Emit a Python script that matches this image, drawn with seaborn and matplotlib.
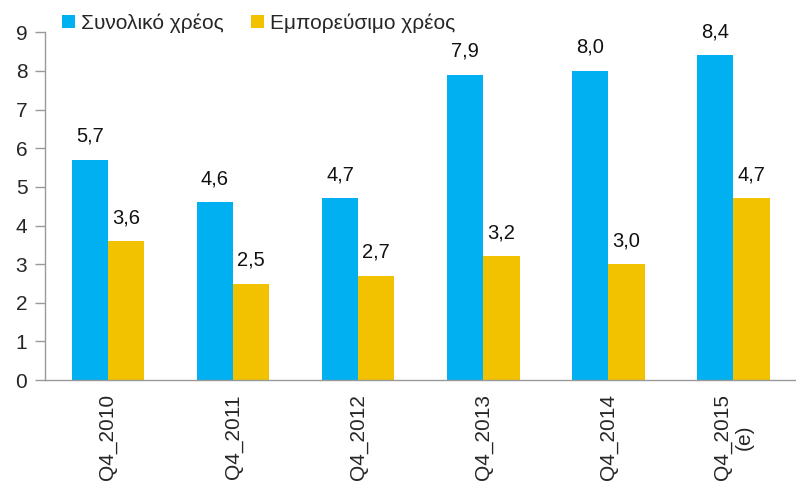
import seaborn as sns
import pandas as pd
import matplotlib.pyplot as plt
from matplotlib.patches import Patch

periods = ['Q4_2010', 'Q4_2011', 'Q4_2012', 'Q4_2013', 'Q4_2014', 'Q4_2015\n(e)']
total_debt = [5.7, 4.6, 4.7, 7.9, 8.0, 8.4]
market_debt = [3.6, 2.5, 2.7, 3.2, 3.0, 4.7]
series_names = ['Συνολικό χρέος', 'Εμπορεύσιμο χρέος']
colors = ['#00B0F0', '#F2C200']

df = pd.DataFrame({
    'period': periods * 2,
    'value': total_debt + market_debt,
    'series': [series_names[0]] * len(periods) + [series_names[1]] * len(periods),
})

sns.set_style('white')
plt.rcParams['font.family'] = ['Liberation Sans', 'DejaVu Sans']

fig = plt.figure(figsize=(7.96, 4.88), dpi=100)
ax = fig.add_axes([0.057, 0.221, 0.943, 0.713])
sns.barplot(data=df, x='period', y='value', hue='series', palette=colors,
            width=0.58, saturation=1, linewidth=0, ax=ax, legend=False)

# value labels with comma decimals
for cont, vals in zip(ax.containers, [total_debt, market_debt]):
    ax.bar_label(cont, labels=[f'{v:.1f}'.replace('.', ',') for v in vals],
                 padding=10, fontsize=14.5, color='#111111')

ax.set_ylim(0, 9)
ax.set_xlim(-0.5, len(periods) - 0.5)
ax.set_yticks(range(0, 10))
ax.set_xlabel('')
ax.set_ylabel('')
for s in ['top', 'right']:
    ax.spines[s].set_visible(False)
for s in ['left', 'bottom']:
    ax.spines[s].set_color('#999999')
    ax.spines[s].set_linewidth(1)
ax.tick_params(axis='y', length=7, width=1, color='#999999', labelsize=15, pad=6, left=True)
ax.tick_params(axis='x', length=0, labelsize=15, pad=10)
plt.setp(ax.get_xticklabels(), rotation=90, ha='center', va='top', multialignment='center')

handles = [Patch(facecolor=c, edgecolor='none') for c in colors]
fig.legend(handles, series_names, loc='upper left', bbox_to_anchor=(0.068, 0.99),
           ncol=2, frameon=False, fontsize=15, handlelength=0.6, handleheight=0.6,
           handletextpad=0.3, columnspacing=1.3, borderaxespad=0)

fig.savefig('out.png', dpi=100)
